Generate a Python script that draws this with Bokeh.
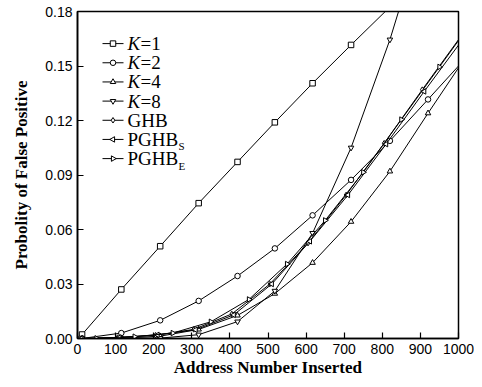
import numpy as np
from bokeh.plotting import figure
from bokeh.models import Range1d, Label, FixedTicker, PrintfTickFormatter
from bokeh.embed import file_html
from bokeh.resources import INLINE

# ---- data ----
x_k = [12, 115, 217, 318, 420, 518, 617, 718, 820, 920, 1000]
k1 = [0.0022, 0.0270, 0.0508, 0.0745, 0.0972, 0.1190, 0.1405, 0.1616, 0.1825, 0.2025, 0.2180]
k2 = [0.00002, 0.0030, 0.0100, 0.0207, 0.0344, 0.0496, 0.0678, 0.0873, 0.1088, 0.1316, 0.1500]
k4 = [0.0, 0.0001, 0.0013, 0.0050, 0.0127, 0.0247, 0.0417, 0.0643, 0.0920, 0.1240, 0.1490]
k8 = [0.0, 0.0, 0.0002, 0.0021, 0.0093, 0.0262, 0.0580, 0.1050, 0.1645, 0.2330, 0.3000]
x_ghb = [5, 105, 205, 305, 405, 505, 605, 705, 805, 905, 1000]
ghb = [0.0, 0.0005, 0.0018, 0.0050, 0.0135, 0.0300, 0.0525, 0.0790, 0.1075, 0.1370, 0.1645]
x_pghbs = [10, 110, 210, 310, 410, 510, 610, 710, 810, 910, 1000]
pghbs = [0.0, 0.0006, 0.0020, 0.0048, 0.0130, 0.0300, 0.0535, 0.0790, 0.1070, 0.1360, 0.1615]
x_pghbe = [50, 150, 250, 350, 450, 550, 650, 750, 850, 950, 1000]
pghbe = [0.0001, 0.0010, 0.0030, 0.0092, 0.0215, 0.0410, 0.0650, 0.0915, 0.1205, 0.1495, 0.1640]

x_ticks = [0, 100, 200, 300, 400, 500, 600, 700, 800, 900, 1000]
y_ticks = [0.0, 0.03, 0.06, 0.09, 0.12, 0.15, 0.18]

# italic prefix, main text, subscript, x, y, marker, angle
series = [
    ("K", "=1", "", x_k, k1, "square", 0.0),
    ("K", "=2", "", x_k, k2, "circle", 0.0),
    ("K", "=4", "", x_k, k4, "triangle", 0.0),
    ("K", "=8", "", x_k, k8, "inverted_triangle", 0.0),
    ("", "GHB", "", x_ghb, ghb, "diamond", 0.0),
    ("", "PGHB", "S", x_pghbs, pghbs, "triangle", np.pi / 2),
    ("", "PGHB", "E", x_pghbe, pghbe, "triangle", -np.pi / 2),
]

SERIF = "Liberation Serif"
SANS = "Liberation Sans"

W, H = 474, 379
ML, MR, MT, MB = 77, 16, 11, 37
XR = (0, 1000)
YR = (0, 0.18)

p = figure(width=W, height=H, output_backend="svg", toolbar_location=None,
           x_range=Range1d(*XR), y_range=Range1d(*YR),
           min_border_left=ML, min_border_right=MR, min_border_top=MT, min_border_bottom=MB)
p.background_fill_color = "white"
p.border_fill_color = "white"
p.grid.visible = False
p.outline_line_color = "black"
p.outline_line_width = 1.5

for ax in (p.xaxis[0], p.yaxis[0]):
    ax.major_tick_in = 6
    ax.major_tick_out = 0
    ax.minor_tick_line_color = None
    ax.axis_line_width = 1.6
    ax.major_tick_line_width = 1.2
    ax.major_label_text_font = SANS
    ax.major_label_text_font_size = "14px"
    ax.major_label_text_color = "black"
    ax.axis_label_text_font = SERIF
    ax.axis_label_text_font_size = "17px"
    ax.axis_label_text_font_style = "bold"
    ax.axis_label_text_color = "black"

p.xaxis.ticker = FixedTicker(ticks=x_ticks)
p.yaxis.ticker = FixedTicker(ticks=y_ticks)
p.yaxis.formatter = PrintfTickFormatter(format="%.2f")
p.xaxis.axis_label = "Address Number Inserted"
p.yaxis.axis_label = "Probolity of False Positive"
p.xaxis.major_label_standoff = 5
p.xaxis.axis_label_standoff = 1
p.yaxis.major_label_standoff = 5
p.yaxis.axis_label_standoff = 11

for ital, main, sub, xs, ys, mk, ang in series:
    p.line(xs, ys, line_color="black", line_width=1)
    p.scatter(xs[:-1], ys[:-1], marker=mk, angle=ang, size=5.5,
              fill_color="white", line_color="black", line_width=1)

# ---- manual legend (positions in screen pixels converted to data) ----
FW = W - ML - MR
FH = H - MT - MB


def to_data(fx, fy):
    return (XR[0] + (fx - ML) / FW * (XR[1] - XR[0]),
            YR[0] + (MT + FH - fy) / FH * (YR[1] - YR[0]))


row0, dy = 43.5, 19.4
for i, (ital, main, sub, xs, ys, mk, ang) in enumerate(series):
    fy = row0 + i * dy
    xa, ya = to_data(102, fy)
    xb, _ = to_data(123, fy)
    xm, _ = to_data(112.5, fy)
    xt, _ = to_data(127, fy)
    p.line([xa, xb], [ya, ya], line_color="black", line_width=1)
    p.scatter([xm], [ya], marker=mk, angle=ang, size=5.5,
              fill_color="white", line_color="black", line_width=1)
    off = 0
    if ital:
        p.add_layout(Label(x=xt, y=ya, text=ital, text_font=SERIF,
                           text_font_size="19px", text_font_style="italic",
                           text_baseline="middle", text_color="black"))
        off = 13
    p.add_layout(Label(x=xt, y=ya, x_offset=off, text=main, text_font=SERIF,
                       text_font_size="19px", text_baseline="middle", text_color="black"))
    if sub:
        p.add_layout(Label(x=xt, y=ya, x_offset=51, y_offset=-7, text=sub,
                           text_font=SERIF, text_font_size="11px",
                           text_baseline="middle", text_color="black"))

open("out.html", "w").write(file_html(p, INLINE))
